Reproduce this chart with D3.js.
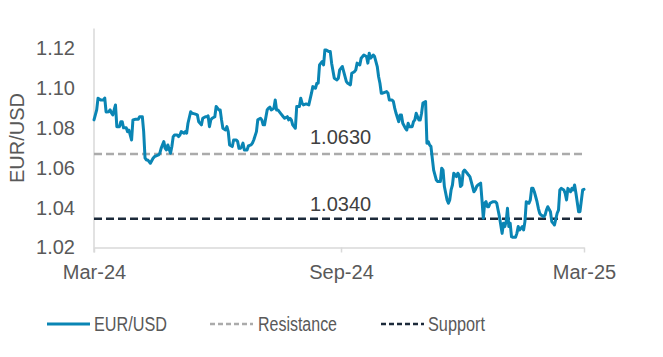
<!DOCTYPE html>
<html>
<head>
<meta charset="utf-8">
<script src="https://cdn.jsdelivr.net/npm/d3@7"></script>
<style>
  html, body { margin: 0; padding: 0; background: #fff; }
  svg { display: block; font-family: "Liberation Sans", Arial, sans-serif; }
</style>
</head>
<body>
<svg id="chart" width="663" height="357"></svg>
<script>
// ---- data ----
const startDate = "2024-03-01";
const endDate = "2025-03-01";
const dayOffsets = [
  0,2,3,5,7,8,9,11,12,13,14,16,17,19,20,21,22,24,25,26,28,29,31,33,34,36,37,38,39,40,
  42,44,45,48,49,50,52,53,54,55,57,58,59,60,62,63,64,65,67,68,69,70,72,73,75,77,78,80,81,83,
  84,85,86,87,88,90,91,93,94,95,96,98,99,100,101,103,104,106,107,108,109,110,111,112,114,115,117,118,119,121,
  122,124,125,126,127,129,130,131,132,134,135,136,137,139,141,142,144,145,146,147,148,150,151,153,154,155,156,158,160,162,
  163,165,166,167,168,170,171,172,173,175,176,177,179,181,182,183,185,186,188,189,191,192,194,195,196,198,199,201,203,204,
  205,206,208,209,211,212,213,214,215,218,219,220,221,222,223,224,225,227,228,229,230,232,233,234,235,237,238,239,240,242,
  243,244,245,247,248,249,250,251,252,253,255,256,258,259,260,261,263,264,265,266,267,268,270,271,272,273,274,275,276,278,
  279,280,281,283,284,285,286,288,289,290,291,292,293,294,295,297,299,300,301,302,304,305,306,307,308,309,310,311,312,314,
  315,316,317,319,320,321,322,324,325,326,327,328,330,331,332,333,335,336,337,338,340,341,342,343,345,346,347,348,350,351,
  352,353,355,356,357,358,359,361,362,364,365
];
const rates = [
  1.0841,1.0891,1.0950,1.0941,1.0941,1.0951,1.0881,1.0882,1.0891,1.0876,1.0866,1.0916,1.0807,1.0807,1.0832,1.0832,1.0801,1.0801,1.0782,1.0790,1.0740,1.0841,1.0844,1.0844,1.0857,1.0857,1.0782,1.0650,1.0640,1.0640,
  1.0623,1.0648,1.0656,1.0665,1.0673,1.0698,1.0732,1.0698,1.0690,1.0715,1.0673,1.0707,1.0757,1.0765,1.0765,1.0757,1.0765,1.0782,1.0774,1.0782,1.0774,1.0824,1.0882,1.0874,1.0871,1.0866,1.0832,1.0816,1.0849,1.0857,
  1.0857,1.0861,1.0807,1.0841,1.0849,1.0857,1.0908,1.0891,1.0891,1.0841,1.0799,1.0790,1.0807,1.0782,1.0715,1.0707,1.0740,1.0740,1.0732,1.0698,1.0698,1.0707,1.0724,1.0690,1.0690,1.0710,1.0715,1.0724,1.0740,1.0782,
  1.0841,1.0849,1.0841,1.0816,1.0816,1.0891,1.0900,1.0905,1.0891,1.0900,1.0941,1.0891,1.0891,1.0874,1.0857,1.0849,1.0857,1.0841,1.0849,1.0841,1.0816,1.0799,1.0908,1.0908,1.0950,1.0925,1.0916,1.0921,1.0916,1.0975,
  1.1008,1.1000,1.1025,1.1025,1.1117,1.1134,1.1117,1.1192,1.1192,1.1184,1.1184,1.1126,1.1050,1.1042,1.1050,1.1092,1.1109,1.1083,1.1033,1.1025,1.1017,1.1075,1.1083,1.1092,1.1126,1.1117,1.1151,1.1167,1.1159,1.1126,
  1.1176,1.1151,1.1167,1.1159,1.1109,1.1058,1.1025,1.0975,1.0975,1.0983,1.0975,1.0941,1.0941,1.0941,1.0933,1.0900,1.0874,1.0832,1.0866,1.0866,1.0824,1.0799,1.0790,1.0824,1.0807,1.0807,1.0832,1.0841,1.0874,1.0841,
  1.0841,1.0874,1.0925,1.0933,1.0724,1.0732,1.0715,1.0707,1.0648,1.0589,1.0539,1.0531,1.0531,1.0598,1.0589,1.0506,1.0439,1.0422,1.0439,1.0489,1.0514,1.0573,1.0556,1.0573,1.0564,1.0506,1.0514,1.0581,1.0589,1.0573,
  1.0564,1.0556,1.0531,1.0480,1.0489,1.0506,1.0514,1.0523,1.0439,1.0347,1.0422,1.0430,1.0405,1.0405,1.0422,1.0430,1.0430,1.0422,1.0388,1.0355,1.0271,1.0322,1.0305,1.0330,1.0397,1.0305,1.0322,1.0254,1.0251,1.0251,
  1.0271,1.0305,1.0288,1.0305,1.0288,1.0330,1.0430,1.0422,1.0439,1.0497,1.0497,1.0480,1.0430,1.0397,1.0372,1.0363,1.0355,1.0363,1.0388,1.0405,1.0380,1.0330,1.0322,1.0313,1.0372,1.0388,1.0489,1.0497,1.0489,1.0472,
  1.0439,1.0497,1.0480,1.0497,1.0489,1.0514,1.0472,1.0380,1.0380,1.0489,1.0492
];
const resistanceLevel = 1.0670;
const supportLevel = 1.0345;
const resistanceLabel = "1.0630";
const supportLabel = "1.0340";
const yTicks = [1.02, 1.04, 1.06, 1.08, 1.10, 1.12];
const xTickDates = ["2024-03-01", "2024-09-01", "2025-03-01"];
const xTickLabels = ["Mar-24", "Sep-24", "Mar-25"];
const yDomain = [1.02, 1.13];
const seriesNames = ["EUR/USD", "Resistance", "Support"];
const yTitle = "EUR/USD";

// ---- styles ----
const colLine = "#0a85b4";
const colRes = "#ababab";
const colSup = "#1c2a3a";
const colText = "#595959";
const colAxis = "#d9d9d9";

const parse = d3.utcParse("%Y-%m-%d");
const t0 = parse(startDate);
const data = dayOffsets.map((d, i) => ({ date: d3.utcDay.offset(t0, d), v: rates[i] }));

const svg = d3.select("#chart");
const x = d3.scaleUtc().domain([t0, parse(endDate)]).range([94, 584]);
const y = d3.scaleLinear().domain(yDomain).range([247.5, 28.5]);

// y axis line
svg.append("line").attr("x1", 94).attr("x2", 94).attr("y1", y(yDomain[1])).attr("y2", y(yDomain[0]) + 5)
  .attr("stroke", colAxis).attr("stroke-width", 1.5);
// x axis
const xAxis = d3.axisBottom(x)
  .tickValues(xTickDates.map(parse))
  .tickFormat((d, i) => xTickLabels[i])
  .tickSize(5).tickPadding(8).tickSizeOuter(0);
const gx = svg.append("g").attr("transform", `translate(0,${y(yDomain[0])})`).call(xAxis);
gx.select(".domain").attr("stroke", colAxis).attr("stroke-width", 1.5);
gx.selectAll(".tick line").attr("stroke", colAxis).attr("stroke-width", 1.5);
gx.selectAll(".tick text").attr("fill", colText).attr("font-size", 20)
  .attr("font-family", "Liberation Sans, Arial, sans-serif").attr("dy", "0.9em");

// y axis labels
const yAxis = d3.axisLeft(y).tickValues(yTicks).tickFormat(d3.format(".2f")).tickSize(0).tickPadding(19);
const gy = svg.append("g").attr("transform", "translate(94,0)").call(yAxis);
gy.select(".domain").remove();
gy.selectAll(".tick text").attr("fill", colText).attr("font-size", 20)
  .attr("font-family", "Liberation Sans, Arial, sans-serif");

// y title
svg.append("text").attr("transform", `translate(24,${(y(yDomain[0]) + y(yDomain[1])) / 2}) rotate(-90)`)
  .attr("text-anchor", "middle").attr("fill", colText).attr("font-size", 20).text(yTitle);

// resistance / support lines
const xr = x.domain();
svg.append("line").attr("x1", x(xr[0])).attr("x2", x(xr[1]))
  .attr("y1", y(resistanceLevel)).attr("y2", y(resistanceLevel))
  .attr("stroke", colRes).attr("stroke-width", 2.5).attr("stroke-dasharray", "8,4");
svg.append("line").attr("x1", x(xr[0])).attr("x2", x(xr[1]))
  .attr("y1", y(supportLevel)).attr("y2", y(supportLevel))
  .attr("stroke", colSup).attr("stroke-width", 2.5).attr("stroke-dasharray", "8,4");

// series line
svg.append("path").datum(data)
  .attr("fill", "none").attr("stroke", colLine).attr("stroke-width", 3)
  .attr("stroke-linejoin", "round").attr("stroke-linecap", "round")
  .attr("d", d3.line().x(d => x(d.date)).y(d => y(d.v)));

// level labels
svg.append("text").attr("x", 310).attr("y", y(resistanceLevel) - 10)
  .attr("fill", "#404040").attr("font-size", 20).text(resistanceLabel);
svg.append("text").attr("x", 310).attr("y", y(supportLevel) - 8)
  .attr("fill", "#404040").attr("font-size", 20).text(supportLabel);

// legend
const legend = [
  { name: seriesNames[0], color: colLine, dash: null, x0: 47, tx: 94, tw: 73 },
  { name: seriesNames[1], color: colRes, dash: "5,3", x0: 210, tx: 258, tw: 79 },
  { name: seriesNames[2], color: colSup, dash: "5,3", x0: 381, tx: 428, tw: 57 }
];
const lg = svg.append("g");
legend.forEach(l => {
  lg.append("line").attr("x1", l.x0).attr("x2", l.x0 + 43).attr("y1", 324).attr("y2", 324)
    .attr("stroke", l.color).attr("stroke-width", l.dash ? 2.5 : 3)
    .attr("stroke-dasharray", l.dash);
  lg.append("text").attr("x", l.tx).attr("y", 331).attr("fill", colText).attr("font-size", 20)
    .attr("textLength", l.tw).attr("lengthAdjust", "spacingAndGlyphs").text(l.name);
});
</script>
</body>
</html>
